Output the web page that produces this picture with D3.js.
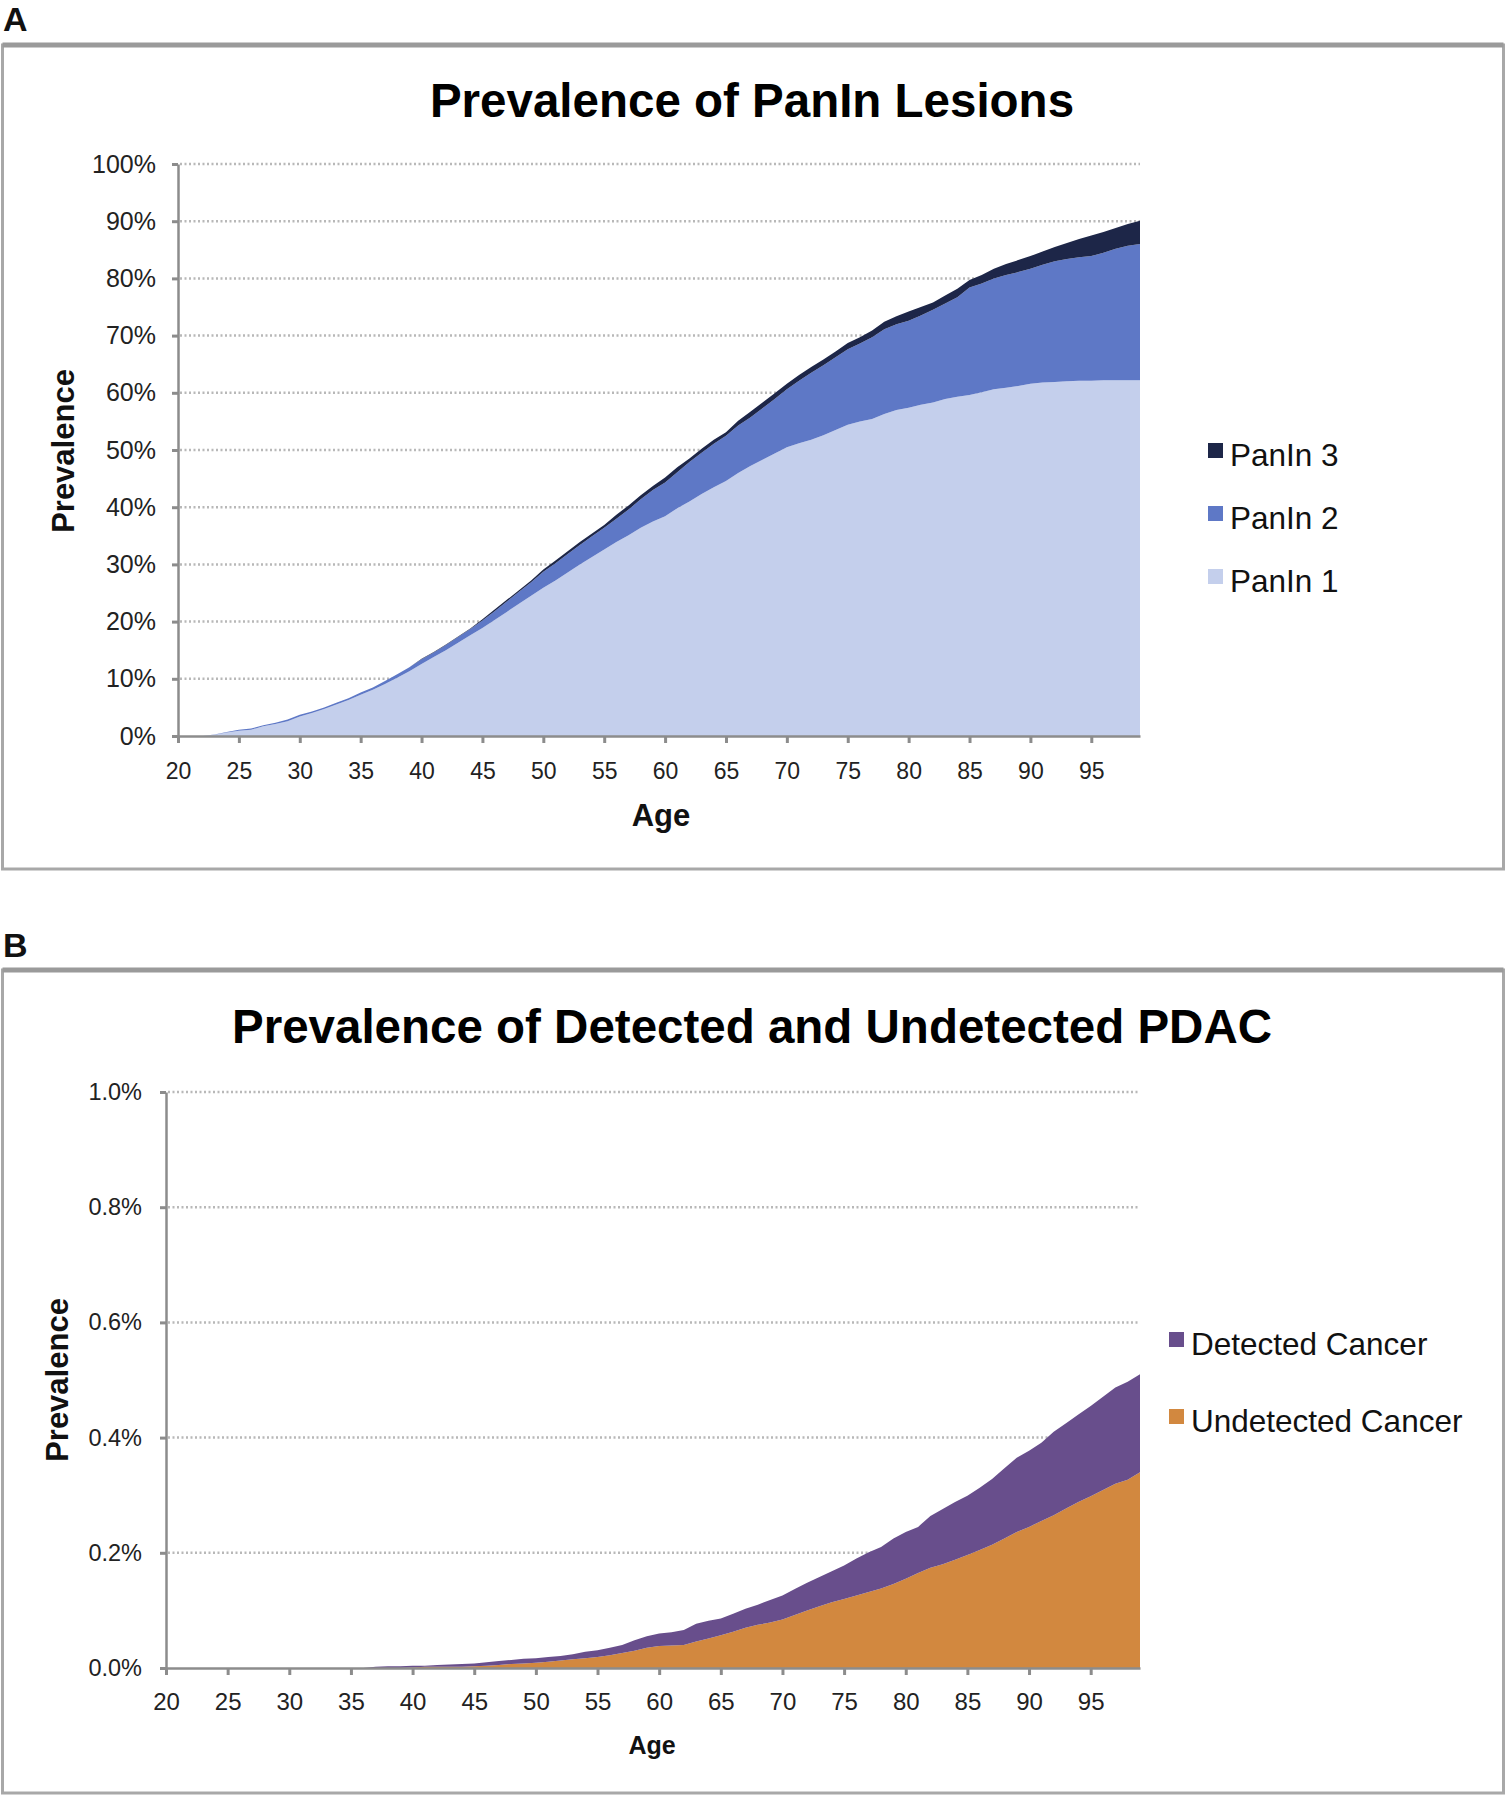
<!DOCTYPE html>
<html><head><meta charset="utf-8">
<script src="https://cdn.jsdelivr.net/npm/d3@7"></script>
<style>
body{margin:0;background:#fff}
svg{display:block;font-family:"Liberation Sans",Arial,Helvetica,sans-serif}
</style>
</head><body>
<svg id="c" width="1507" height="1800"></svg>
<script>
// ---------- DATA ----------
const ages = [20,21,22,23,24,25,26,27,28,29,30,31,32,33,34,35,36,37,38,39,
  40,41,42,43,44,45,46,47,48,49,50,51,52,53,54,55,56,57,58,59,
  60,61,62,63,64,65,66,67,68,69,70,71,72,73,74,75,76,77,78,79,
  80,81,82,83,84,85,86,87,88,89,90,91,92,93,94,95,96,97,98,99];
const xTickAges = [20,25,30,35,40,45,50,55,60,65,70,75,80,85,90,95];

// Panel A, prevalence in %
const panin1 = [0,0,0,0.2,0.6,0.9,1.1,1.7,2.1,2.6,3.4,4.0,4.7,5.5,6.3,7.2,8.1,9.1,10.2,11.3,
  12.6,13.8,15.0,16.3,17.6,18.9,20.3,21.7,23.1,24.5,25.9,27.2,28.6,30.0,31.3,32.6,33.9,35.1,36.4,37.5,
  38.4,39.8,41.0,42.3,43.5,44.6,46.0,47.2,48.3,49.4,50.5,51.2,51.8,52.6,53.5,54.4,55.0,55.4,56.3,57.0,
  57.4,57.9,58.3,58.9,59.3,59.6,60.1,60.6,60.9,61.2,61.6,61.8,61.9,62.0,62.1,62.1,62.2,62.2,62.2,62.2];
const panin2 = [0,0,0,0.05,0.1,0.2,0.2,0.2,0.2,0.3,0.3,0.3,0.3,0.3,0.3,0.4,0.4,0.5,0.6,0.7,
  0.8,0.8,0.9,1.0,1.1,1.3,1.5,1.8,2.1,2.4,2.8,3.0,3.2,3.4,3.6,3.8,4.1,4.5,5.0,5.5,
  5.9,6.3,6.9,7.2,7.6,7.9,8.3,8.5,9.0,9.5,10.1,10.9,11.7,12.2,12.7,13.2,13.6,14.3,14.8,15.0,
  15.2,15.6,16.2,16.7,17.4,18.8,19.0,19.4,19.7,19.9,20.1,20.6,21.1,21.4,21.6,21.8,22.3,23.0,23.5,23.8];
const panin3 = [0,0,0,0,0,0,0,0,0,0,0,0,0,0,0,0,0,0,0,0,
  0.1,0.1,0.1,0.1,0.1,0.2,0.3,0.3,0.3,0.3,0.4,0.5,0.5,0.5,0.5,0.5,0.7,0.7,0.7,0.7,
  0.9,0.9,0.6,0.7,0.7,0.6,0.8,1.0,1.0,1.0,1.0,1.0,1.0,1.0,1.0,1.1,1.1,1.2,1.3,1.4,
  1.6,1.5,1.3,1.4,1.5,1.3,1.5,1.7,1.9,2.1,2.2,2.3,2.5,2.8,3.2,3.6,3.6,3.6,3.8,4.1];
const yTicksA = [0,10,20,30,40,50,60,70,80,90,100];

// Panel B, prevalence in %
const undetected = [0,0,0,0,0,0,0,0,0,0,0,0,0,0,0,0,0,0,0,0,
  0.001,0.002,0.002,0.002,0.002,0.003,0.004,0.005,0.007,0.008,0.009,0.011,0.013,0.015,0.017,0.019,0.022,0.026,0.030,0.035,
  0.038,0.039,0.040,0.046,0.051,0.057,0.063,0.070,0.075,0.079,0.084,0.092,0.100,0.107,0.114,0.120,0.126,0.132,0.138,0.146,
  0.155,0.165,0.174,0.180,0.188,0.196,0.205,0.214,0.225,0.236,0.245,0.255,0.265,0.277,0.288,0.298,0.309,0.320,0.327,0.340];
const detected = [0,0,0,0,0,0,0,0,0,0,0,0,0,0,0,0,0,0.002,0.003,0.003,
  0.003,0.002,0.003,0.004,0.005,0.005,0.006,0.007,0.007,0.008,0.008,0.008,0.008,0.009,0.011,0.012,0.013,0.014,0.018,0.020,
  0.022,0.023,0.026,0.031,0.031,0.029,0.031,0.033,0.035,0.039,0.042,0.045,0.048,0.051,0.054,0.058,0.064,0.069,0.072,0.079,
  0.081,0.080,0.090,0.096,0.100,0.103,0.108,0.114,0.122,0.129,0.132,0.136,0.145,0.148,0.152,0.157,0.162,0.167,0.170,0.170];
const yTicksB = [0,0.2,0.4,0.6,0.8,1.0];

// ---------- DRAW ----------
const svg = d3.select("#c");

function panel(o) {
  const g = svg.append("g");
  // frame
  g.append("rect").attr("x", o.frame[0]).attr("y", o.frame[1])
    .attr("width", o.frame[2]).attr("height", o.frame[3])
    .attr("fill", "#fff").attr("stroke", "#a8a8a8").attr("stroke-width", 3);
  g.append("line").attr("x1", o.frame[0]).attr("x2", o.frame[0] + o.frame[2])
    .attr("y1", o.frame[1]).attr("y2", o.frame[1])
    .attr("stroke", "#9a9a9a").attr("stroke-width", 5);
  // panel letter
  g.append("text").attr("x", 3).attr("y", o.letterY).text(o.letter)
    .attr("font-size", 34).attr("font-weight", "bold").attr("fill", "#111");
  // title
  g.append("text").attr("x", 752).attr("y", o.titleY).attr("text-anchor", "middle")
    .attr("font-size", 47.5).attr("font-weight", "bold").attr("fill", "#000").text(o.title);

  const x = d3.scaleLinear().domain([20, 99]).range(o.xr);
  const y = d3.scaleLinear().domain(o.yd).range(o.yr);

  // gridlines
  g.append("g").selectAll("line").data(o.yTicks.filter(v => v > 0)).join("line")
    .attr("x1", o.xr[0] + 2).attr("x2", o.xr[1])
    .attr("y1", d => y(d)).attr("y2", d => y(d))
    .attr("stroke", "#b8b8b8").attr("stroke-width", 2.5).attr("stroke-dasharray", "2,2.5");

  // stacked areas
  const rows = ages.map((a, i) => {
    const r = {age: a};
    o.keys.forEach((k, j) => r[k] = o.series[j][i]);
    return r;
  });
  const stack = d3.stack().keys(o.keys)(rows);
  const area = d3.area().x(d => x(d.data.age)).y0(d => y(d[0])).y1(d => y(d[1]));
  g.append("g").selectAll("path").data(stack).join("path")
    .attr("d", area).attr("fill", (d, i) => o.colors[i]);

  // axes
  const ya = g.append("g").attr("transform", `translate(${o.xr[0]},0)`)
    .call(d3.axisLeft(y).tickValues(o.yTicks).tickSize(6).tickSizeOuter(0)
      .tickPadding(o.yPad).tickFormat(o.yFmt));
  const xa = g.append("g").attr("transform", `translate(0,${o.yr[0]})`)
    .call(d3.axisBottom(x).tickValues(xTickAges).tickSize(7).tickSizeOuter(0)
      .tickPadding(o.xPad).tickFormat(d3.format("d")));
  [ya, xa].forEach(a => {
    a.select(".domain").attr("stroke", "#8c8c8c").attr("stroke-width", 2.5);
    a.selectAll(".tick line").attr("stroke", "#8c8c8c").attr("stroke-width", 3);
    a.selectAll("text").attr("fill", "#222").attr("font-family", "Liberation Sans, Arial, sans-serif");
  });
  ya.selectAll("text").attr("font-size", o.yFont);
  xa.selectAll("text").attr("font-size", o.xFont);

  // axis titles
  g.append("text").attr("transform", `translate(${o.yTitle[0]},${o.yTitle[1]}) rotate(-90)`)
    .attr("text-anchor", "middle").attr("font-size", 31).attr("font-weight", "bold")
    .attr("fill", "#111").text("Prevalence");
  g.append("text").attr("x", o.xTitle[0]).attr("y", o.xTitle[1]).attr("text-anchor", "middle")
    .attr("font-size", o.xTitleFont).attr("font-weight", "bold").attr("fill", "#111").text("Age");

  // legend
  const lg = g.append("g").selectAll("g").data(o.legend).join("g")
    .attr("transform", (d, i) => `translate(${o.legX},${o.legY[i]})`);
  lg.append("rect").attr("x", 0).attr("y", -23).attr("width", 15).attr("height", 15)
    .attr("fill", d => d.color);
  lg.append("text").attr("x", 22).attr("y", 0).attr("font-size", 31.5).attr("fill", "#111")
    .text(d => d.name);
}

panel({
  frame: [2.5, 45, 1501, 824], letter: "A", letterY: 31,
  title: "Prevalence of PanIn Lesions", titleY: 117,
  xr: [178, 1140], yr: [736, 164], yd: [0, 100], yTicks: yTicksA,
  yFmt: d => d + "%", yPad: 16, xPad: 20, yFont: 25, xFont: 23,
  keys: ["p1", "p2", "p3"], series: [panin1, panin2, panin3],
  colors: ["#c4cfec", "#5e78c6", "#1d2648"],
  yTitle: [74, 451], xTitle: [661, 826], xTitleFont: 31,
  legX: 1208, legY: [466, 529, 592],
  legend: [{name: "PanIn 3", color: "#1d2648"}, {name: "PanIn 2", color: "#5e78c6"}, {name: "PanIn 1", color: "#c4cfec"}]
});

panel({
  frame: [2.5, 970, 1501, 823], letter: "B", letterY: 957,
  title: "Prevalence of Detected and Undetected PDAC", titleY: 1043,
  xr: [166, 1140], yr: [1668, 1092], yd: [0, 1.0], yTicks: yTicksB,
  yFmt: d => d3.format(".1f")(d) + "%", yPad: 18, xPad: 18, yFont: 23.5, xFont: 24,
  keys: ["u", "d"], series: [undetected, detected],
  colors: ["#d2883f", "#684e8c"],
  yTitle: [68, 1380], xTitle: [652, 1754], xTitleFont: 25,
  legX: 1169, legY: [1355, 1432],
  legend: [{name: "Detected Cancer", color: "#684e8c"}, {name: "Undetected Cancer", color: "#d2883f"}]
});
</script>
</body></html>
